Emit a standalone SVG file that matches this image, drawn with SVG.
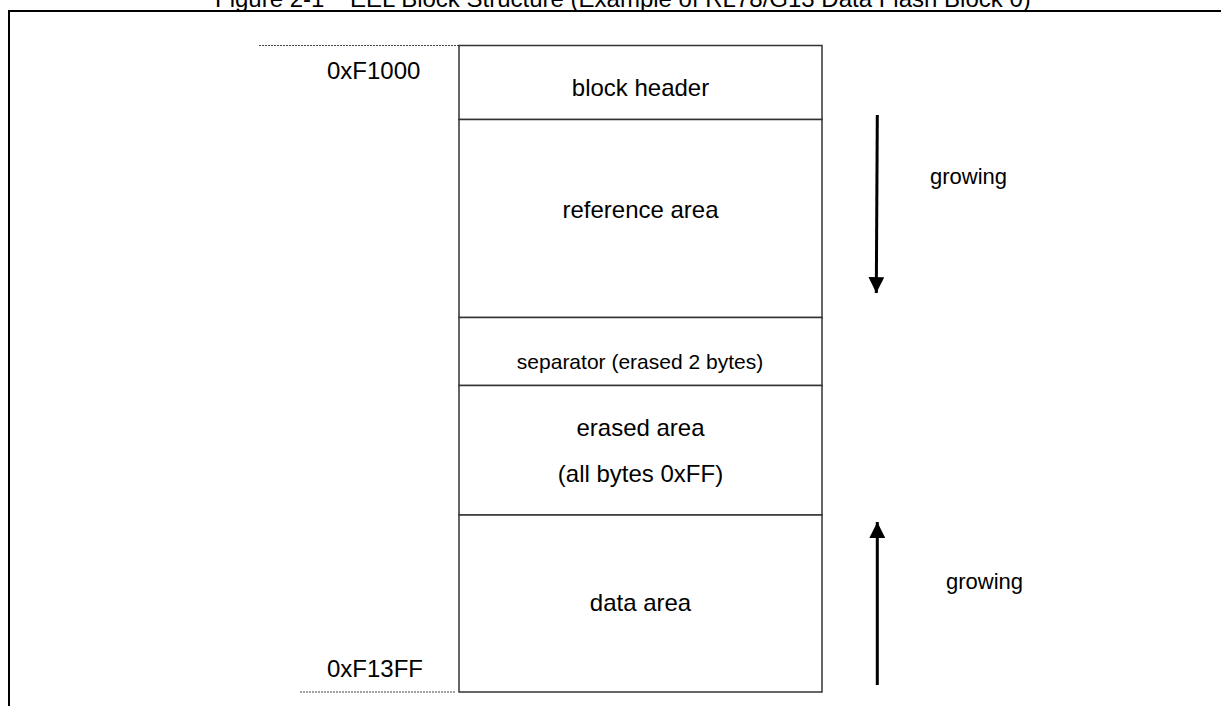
<svg xmlns="http://www.w3.org/2000/svg" width="1221" height="706" viewBox="0 0 1221 706">
  <style>
    .t { font-family: "Liberation Sans", Arial, sans-serif; fill: #000; }
    .lbl { font-size: 24px; text-anchor: middle; }
    .sm { font-size: 21px; text-anchor: middle; }
    .addr { font-size: 24px; }
    .grow { font-size: 22px; }
    .box { fill: #fff; stroke: #333; stroke-width: 1.5; }
    .div { stroke: #555; stroke-width: 1.5; }
    .dot { stroke: #444; stroke-width: 1; stroke-dasharray: 2 1; }
    .arrow { stroke: #000; stroke-width: 3; fill: none; }
  </style>
  <defs>
    <marker id="head" viewBox="0 0 10 10" refX="10" refY="5" markerWidth="5.3" markerHeight="5.3" markerUnits="strokeWidth" orient="auto">
      <path d="M0,0 L10,5 L0,10 Z" fill="#000"/>
    </marker>
  </defs>
  <rect width="1221" height="706" fill="#fff"/>

  <!-- figure title (clipped by top edge) -->
  <text class="t" x="215" y="7" font-size="24">Figure 2-1</text>
  <text class="t" x="350" y="7" font-size="24">EEL Block Structure (Example of RL78/G13 Data Flash Block 0)</text>

  <!-- frame -->
  <path d="M9,706 V11 H1221" fill="none" stroke="#000" stroke-width="2"/>

  <!-- address guide lines -->
  <g id="guides">
    <line class="dot" x1="259" y1="45.5" x2="459" y2="45.5"/>
    <line class="dot" x1="300" y1="692" x2="456" y2="692"/>
  </g>

  <g id="block-header">
    <rect class="box" x="459" y="45.5" width="363" height="74"/>
    <text class="t lbl" x="640.5" y="96">block header</text>
  </g>
  <g id="reference-area">
    <rect class="box" x="459" y="119.5" width="363" height="198"/>
    <text class="t lbl" x="640.5" y="218">reference area</text>
  </g>
  <g id="separator">
    <rect class="box" x="459" y="317.5" width="363" height="68"/>
    <text class="t sm" x="640" y="369">separator (erased 2 bytes)</text>
  </g>
  <g id="erased-area">
    <rect class="box" x="459" y="385.5" width="363" height="129.5"/>
    <text class="t lbl" x="640.5" y="436">erased area</text>
    <text class="t lbl" x="640.5" y="482">(all bytes 0xFF)</text>
  </g>
  <g id="data-area">
    <rect class="box" x="459" y="515" width="363" height="177"/>
    <text class="t lbl" x="640.5" y="611">data area</text>
  </g>

  <g id="addresses">
    <text class="t addr" x="327" y="79">0xF1000</text>
    <text class="t addr" x="327" y="677">0xF13FF</text>
  </g>

  <g id="connectors">
    <line class="arrow" x1="877.3" y1="115" x2="876.3" y2="293" marker-end="url(#head)"/>
    <line class="arrow" x1="877.3" y1="685" x2="877.3" y2="522" marker-end="url(#head)"/>
  </g>

  <g id="growth-labels">
    <text class="t grow" x="930" y="184">growing</text>
    <text class="t grow" x="946" y="589">growing</text>
  </g>
</svg>
